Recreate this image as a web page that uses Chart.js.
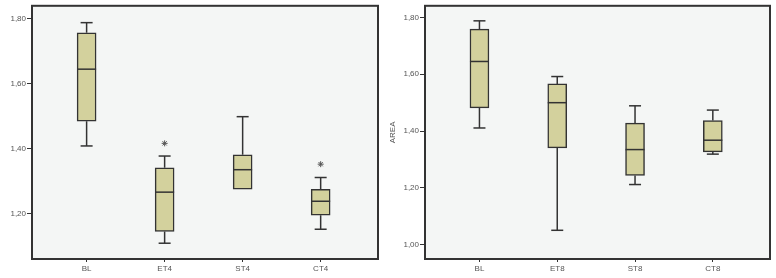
<!DOCTYPE html>
<html><head><meta charset="utf-8">
<script src="https://cdn.jsdelivr.net/npm/chart.js@4"></script>
<style>
body{margin:0;background:#fff;width:776px;height:278px;overflow:hidden;position:relative}
#w1{position:absolute;left:-8px;top:0;width:396px;height:278px}
#w2{position:absolute;left:388px;top:0;width:388px;height:278px}
</style>
</head><body>
<div id="w1"><canvas id="c1"></canvas></div>
<div id="w2"><canvas id="c2"></canvas></div>
<script>
// Left panel (week 4)
const catsLeft = ['BL','ET4','ST4','CT4'];
const minLeft  = [1.408, 1.109, 1.275, 1.152];
const q1Left   = [1.484, 1.145, 1.275, 1.195];
const medLeft  = [1.644, 1.266, 1.335, 1.238];
const q3Left   = [1.756, 1.341, 1.381, 1.275];
const maxLeft  = [1.787, 1.377, 1.498, 1.311];
const outCatLeft = [1, 3];
const outValLeft = [1.416, 1.352];
const yTicksLeft = [1.20, 1.40, 1.60, 1.80];

// Right panel (week 8)
const catsRight = ['BL','ET8','ST8','CT8'];
const minRight  = [1.411, 1.051, 1.212, 1.319];
const q1Right   = [1.482, 1.341, 1.244, 1.327];
const medRight  = [1.645, 1.500, 1.335, 1.368];
const q3Right   = [1.759, 1.566, 1.428, 1.437];
const maxRight  = [1.788, 1.592, 1.489, 1.474];
const outCatRight = [];
const outValRight = [];
const yTicksRight = [1.00, 1.20, 1.40, 1.60, 1.80];

const INK = '#333333';
const BOX = '#d3d19d';
const BG = '#f4f6f5';
const TXT = '#555555';

function makeChart(id, cats, mins, q1s, meds, q3s, maxs, oc, ov, yMin, yMax, yTicks, yWidth, padRight) {
  const boxPlugin = {
    id: 'boxextras',
    beforeDraw(chart) {
      const a = chart.chartArea, ctx = chart.ctx;
      ctx.save();
      ctx.fillStyle = BG;
      ctx.fillRect(a.left, a.top, a.right - a.left, a.bottom - a.top);
      ctx.restore();
    },
    afterDatasetsDraw(chart) {
      const ctx = chart.ctx, xs = chart.scales.x, ys = chart.scales.y;
      const meta = chart.getDatasetMeta(0);
      ctx.save();
      ctx.strokeStyle = INK;
      ctx.lineWidth = 1.5;
      cats.forEach((c, i) => {
        const cx = xs.getPixelForValue(i);
        const bw = meta.data[i].width;
        const cap = 6;
        const seg = (x1, y1, x2, y2) => { ctx.beginPath(); ctx.moveTo(x1, y1); ctx.lineTo(x2, y2); ctx.stroke(); };
        if (maxs[i] > q3s[i]) {
          seg(cx, ys.getPixelForValue(q3s[i]), cx, ys.getPixelForValue(maxs[i]));
          seg(cx - cap, ys.getPixelForValue(maxs[i]), cx + cap, ys.getPixelForValue(maxs[i]));
        }
        if (mins[i] < q1s[i]) {
          seg(cx, ys.getPixelForValue(q1s[i]), cx, ys.getPixelForValue(mins[i]));
          seg(cx - cap, ys.getPixelForValue(mins[i]), cx + cap, ys.getPixelForValue(mins[i]));
        }
        const my = ys.getPixelForValue(meds[i]);
        seg(cx - bw / 2, my, cx + bw / 2, my);
      });
      const a = chart.chartArea;
      ctx.lineWidth = 2;
      ctx.strokeStyle = INK;
      ctx.strokeRect(a.left, a.top, a.right - a.left, a.bottom - a.top);
      ctx.restore();
    }
  };
  return new Chart(document.getElementById(id), {
    type: 'bar',
    data: {
      datasets: [
        {
          data: cats.map((c, i) => ({ x: i, y: [q1s[i], q3s[i]] })),
          backgroundColor: BOX,
          borderColor: INK,
          borderWidth: 1.5,
          borderSkipped: false,
          barThickness: 19
        },
        {
          type: 'scatter',
          data: oc.map((c, i) => ({ x: c, y: ov[i] })),
          pointStyle: 'star',
          radius: 3,
          borderColor: '#555',
          borderWidth: 1,
          backgroundColor: '#555'
        }
      ]
    },
    options: {
      responsive: true,
      maintainAspectRatio: false,
      animation: false,
      events: [],
      layout: { padding: { left: 0, right: padRight, top: 4, bottom: 0 } },
      plugins: { legend: { display: false }, tooltip: { enabled: false } },
      scales: {
        x: {
          type: 'linear',
          min: -0.70, max: 3.735,
          offset: false,
          afterBuildTicks: s => { s.ticks = cats.map((c, i) => ({ value: i })); },
          afterFit: s => { s.height = 19; },
          border: { display: false },
          grid: { display: true, offset: false, drawOnChartArea: false, drawTicks: true, tickLength: 3, color: INK },
          ticks: { color: TXT, font: { family: 'Liberation Sans', size: 8 }, padding: 2, maxRotation: 0,
                   callback: v => cats[v] }
        },
        y: {
          min: yMin, max: yMax,
          afterBuildTicks: s => { s.ticks = yTicks.map(v => ({ value: v })); },
          afterFit: s => { s.width = yWidth; },
          border: { display: false },
          grid: { display: true, drawOnChartArea: false, drawTicks: true, tickLength: 5, color: INK },
          title: { display: true, text: 'AREA', color: TXT, font: { family: 'Liberation Sans', size: 8 }, padding: 0 },
          ticks: { color: TXT, font: { family: 'Liberation Sans', size: 8 }, padding: 1,
                   callback: v => v.toFixed(2).replace('.', ',') }
        }
      }
    },
    plugins: [boxPlugin]
  });
}

makeChart('c1', catsLeft, minLeft, q1Left, medLeft, q3Left, maxLeft, outCatLeft, outValLeft, 1.0605, 1.8388, yTicksLeft, 40, 10);
makeChart('c2', catsRight, minRight, q1Right, medRight, q3Right, maxRight, outCatRight, outValRight, 0.95, 1.8409, yTicksRight, 37, 6);
</script>
</body></html>
